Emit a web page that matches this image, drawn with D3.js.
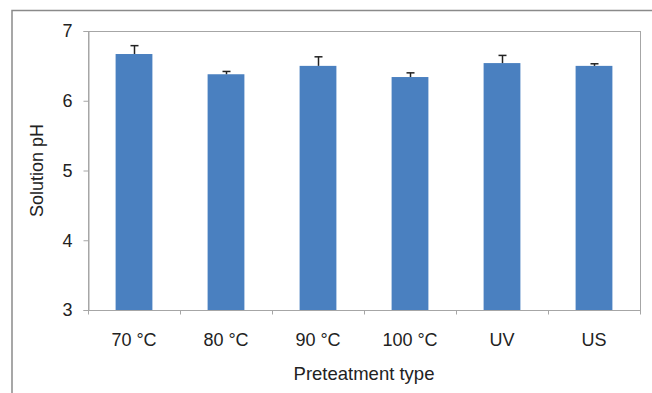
<!DOCTYPE html>
<html>
<head>
<meta charset="utf-8">
<script src="https://cdn.jsdelivr.net/npm/d3@7"></script>
<style>
  body { margin: 0; background: #fff; }
  svg text { font-family: "Liberation Sans", Arial, sans-serif; fill: #222; }
</style>
</head>
<body>
<div id="chart"></div>
<script>
// values
const categories = ['70 °C', '80 °C', '90 °C', '100 °C', 'UV', 'US'];
const phValues = [6.67, 6.38, 6.50, 6.34, 6.54, 6.50];
const phErrors = [0.12, 0.04, 0.13, 0.06, 0.11, 0.03];
const yTicks = [3, 4, 5, 6, 7];

const width = 652, height = 393;
const margin = { top: 31, right: 12, bottom: 83, left: 88 };
const innerW = width - margin.left - margin.right;
const innerH = height - margin.top - margin.bottom;

const svg = d3.select('#chart').append('svg')
    .attr('width', width)
    .attr('height', height);

// outer frame (top and left edges only)
svg.append('path')
    .attr('d', `M12,${height} L12,10.5 L${width},10.5`)
    .attr('fill', 'none')
    .attr('stroke', '#8a8a8a')
    .attr('stroke-width', 1.5);

const g = svg.append('g')
    .attr('transform', `translate(${margin.left}, ${margin.top})`);

const x = d3.scaleBand().domain(categories).range([0, innerW]).paddingInner(0.6).paddingOuter(0.3);
const xOuter = d3.scaleBand().domain(categories).range([0, innerW]);
const y = d3.scaleLinear().domain([3, 7]).range([innerH, 0]);

// plot area border
g.append('rect')
    .attr('x', 0.5)
    .attr('y', 0.5)
    .attr('width', innerW)
    .attr('height', innerH)
    .attr('fill', 'none')
    .attr('stroke', '#a6a6a6')
    .attr('stroke-width', 1);

// bars
g.selectAll('.bar')
    .data(phValues)
    .join('rect')
    .attr('class', 'bar')
    .attr('x', (d, i) => x(categories[i]))
    .attr('width', x.bandwidth())
    .attr('y', d => y(d))
    .attr('height', d => innerH - y(d))
    .attr('fill', '#4a80c0');

// error bars (upper only)
const err = g.selectAll('.err')
    .data(phValues)
    .join('g')
    .attr('class', 'err')
    .attr('transform', (d, i) => `translate(${Math.round(x(categories[i]) + x.bandwidth() / 2) + 0.5}, 0)`);

err.append('line')
    .attr('y1', d => y(d))
    .attr('y2', (d, i) => y(d + phErrors[i]))
    .attr('stroke', '#222')
    .attr('stroke-width', 1.5);

err.append('line')
    .attr('x1', -4)
    .attr('x2', 4)
    .attr('y1', (d, i) => y(d + phErrors[i]))
    .attr('y2', (d, i) => y(d + phErrors[i]))
    .attr('stroke', '#222')
    .attr('stroke-width', 1.5);

// y axis
const yAxis = d3.axisLeft(y).tickValues(yTicks).tickSize(5).tickPadding(11).tickFormat(d3.format('d'));
const yG = g.append('g').attr('transform', 'translate(0.5,0)').call(yAxis);
yG.select('.domain').attr('stroke', '#a6a6a6');
yG.selectAll('.tick line').attr('stroke', '#a6a6a6');
yG.selectAll('.tick text').style('font-size', '18px');

// x axis with ticks on the category boundaries
const xG = g.append('g').attr('transform', `translate(0, ${innerH + 0.5})`);
xG.append('line')
    .attr('x1', 0).attr('x2', innerW + 0.5)
    .attr('stroke', '#a6a6a6');
xG.selectAll('.xtick')
    .data(categories.concat(['end']))
    .join('line')
    .attr('class', 'xtick')
    .attr('x1', (d, i) => Math.round(i * xOuter.step()) + 0.5)
    .attr('x2', (d, i) => Math.round(i * xOuter.step()) + 0.5)
    .attr('y1', 0)
    .attr('y2', 4)
    .attr('stroke', '#a6a6a6');
xG.selectAll('.xlabel')
    .data(categories)
    .join('text')
    .attr('class', 'xlabel')
    .attr('x', d => xOuter(d) + xOuter.bandwidth() / 2)
    .attr('y', 35)
    .attr('text-anchor', 'middle')
    .style('font-size', '18px')
    .text(d => d);

// axis titles
svg.append('text')
    .attr('x', margin.left + innerW / 2)
    .attr('y', 380)
    .attr('text-anchor', 'middle')
    .style('font-size', '18.5px')
    .text('Preteatment type');

svg.append('text')
    .attr('transform', `translate(43, ${margin.top + innerH / 2}) rotate(-90)`)
    .attr('text-anchor', 'middle')
    .style('font-size', '18px')
    .text('Solution pH');
</script>
</body>
</html>
